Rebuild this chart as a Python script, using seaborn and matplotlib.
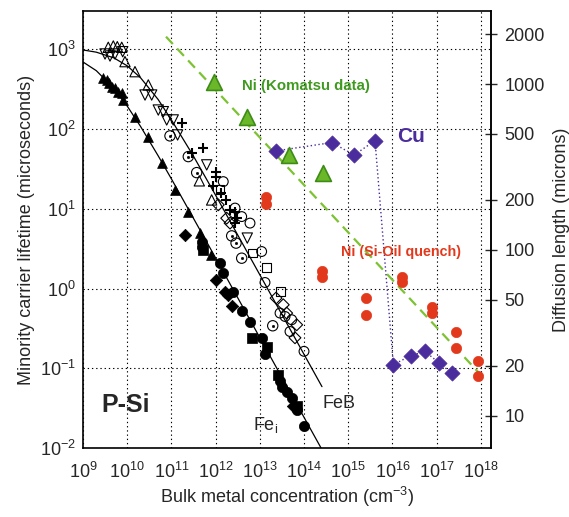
import numpy as np
import pandas as pd
import matplotlib
matplotlib.use("Agg")
import matplotlib.pyplot as plt
from matplotlib.ticker import NullLocator, FixedLocator
import seaborn as sns

# ---------------- data ----------------
# FeB (open symbols)
feb_tri_up_N = [3.73e9, 4.85e9, 5.97e9, 7.52e9, 8.91e9, 1.50e10, 3.0e10, 4.28e11, 8.13e11]
feb_tri_up_tau = [1059, 1100, 1078, 1059, 700, 524, 357, 22.4, 12.9]
feb_tri_dn_N = [3.15e9, 4.08e9, 5.30e9, 7.91e9, 2.53e10, 3.58e10, 5.05e10, 6.56e10, 7.83e10,
                1.10e11, 1.38e11, 6.29e11, 5.21e12]
feb_tri_dn_tau = [873, 824, 873, 933, 267, 267, 173, 165, 130, 130, 84.3, 35.5, 4.29]
feb_dot_N = [9.29e10, 2.41e11, 3.73e11, 2.31e12, 2.90e12, 3.89e12, 1.96e13]
feb_dot_tau = [82.0, 45.1, 28.4, 4.57, 3.71, 2.40, 0.341]
feb_plus_N = [1.71e11, 5.08e11, 2.88e11, 1.02e12, 1.02e12, 8.55e11, 1.32e12, 1.72e12,
              2.12e12, 2.75e12, 3.0e12, 2.75e12]
feb_plus_tau = [120, 58.5, 49.8, 29.3, 24.9, 19.4, 15.7, 12.9, 9.68, 9.22, 7.62, 6.61]
feb_circ_N = [1.49e12, 2.75e12, 3.89e12, 6.0e12, 1.10e13, 1.31e13, 2.87e13, 3.72e13,
              5.27e13, 4.82e13, 1.0e14]
feb_circ_tau = [21.9, 10.2, 7.98, 6.61, 2.91, 1.19, 0.492, 0.446, 0.406, 0.289, 0.163]
feb_sq_N = [1.26e12, 6.90e12, 1.43e13, 2.97e13]
feb_sq_tau = [17.6, 2.78, 1.85, 0.916]
feb_dia_N = [1.15e12, 1.78e12, 2.12e12, 2.33e13, 3.40e13, 4.06e13, 6.84e13, 6.25e13]
feb_dia_tau = [11.2, 7.62, 6.61, 0.759, 0.625, 0.492, 0.351, 0.241]

# Fe_i (filled symbols)
fei_tri_N = [2.88e9, 3.44e9, 3.94e9, 4.46e9, 5.30e9, 6.29e9, 7.52e9, 8.17e9, 1.50e10,
             3.0e10, 6.04e10, 1.21e11, 2.41e11, 4.37e11, 7.87e11]
fei_tri_tau = [434, 412, 375, 340, 324, 294, 281, 232, 142, 78.5, 37.2, 17.3, 9.02, 4.94, 2.64]
fei_circ_N = [4.85e11, 4.85e11, 1.26e12, 1.49e12, 2.51e12, 3.89e12, 6.0e12, 1.10e13,
              1.31e13, 2.87e13, 3.13e13, 4.06e13, 5.27e13, 6.84e13, 1.0e14]
fei_circ_tau = [3.88, 3.36, 2.08, 1.56, 0.916, 0.515, 0.377, 0.239, 0.152, 0.0697,
                0.0586, 0.050, 0.0424, 0.0302, 0.0191]
fei_sq_N = [5.27e11, 6.56e12, 1.43e13, 2.62e13, 6.84e13]
fei_sq_tau = [3.05, 0.241, 0.183, 0.0828, 0.0332]
fei_dia_N = [2.03e11, 9.95e11, 1.63e12, 1.94e12, 2.31e12, 5.64e13]
fei_dia_tau = [4.71, 1.28, 0.895, 0.834, 0.607, 0.0339]

# curves
feb_curve_N = [1e9, 2e9, 5e9, 1e10, 2e10, 5e10, 1e11, 3e11, 1e12, 2.55e14]
feb_curve_tau = [980, 920, 780, 620, 440, 235, 130, 48, 14.8, 0.0588]
fei_curve_N = [1e9, 2e9, 5e9, 1e10, 2e10, 5e10, 1e11, 1e12, 3e14]
fei_curve_tau = [693, 539, 324, 194, 108, 46.3, 23.7, 2.42, 0.0081]

# Ni (Komatsu data)
nik_N = [9.35e11, 5.06e12, 4.65e13, 2.65e14]
nik_tau = [393, 143, 47.3, 27.9]
nik_fit_N = [7.55e10, 1.245e18]
nik_fit_tau = [1439, 0.0726]

# Cu
cu_N = [2.33e13, 4.24e14, 1.37e15, 4.04e15, 1.05e16, 2.59e16, 5.47e16, 1.15e17, 2.2e17]
cu_tau = [53.2, 67.6, 47.3, 71.6, 0.111, 0.1436, 0.1626, 0.116, 0.087]

# Ni (Si-Oil quench)
niq_N = [1.38e13, 1.38e13, 2.51e14, 2.51e14, 2.49e15, 2.49e15, 1.62e16, 1.62e16,
         7.71e16, 7.71e16, 2.75e17, 2.75e17, 8.51e17, 8.51e17]
niq_tau = [14.1, 11.5, 1.68, 1.41, 0.758, 0.468, 1.41, 1.22, 0.594, 0.492, 0.281, 0.179,
           0.1216, 0.0789]

# ticks
x_tick_exp = list(range(9, 19))
y_tick_exp = [-2, -1, 0, 1, 2, 3]
right_ticks = [10, 20, 50, 100, 200, 500, 1000, 2000]

# ---------------- style ----------------
sns.set_style("white")
FONT = ["Liberation Sans", "DejaVu Sans"]
plt.rcParams["font.family"] = FONT
plt.rcParams["mathtext.fontset"] = "custom"
plt.rcParams["mathtext.rm"] = "Liberation Sans"
plt.rcParams["mathtext.it"] = "Liberation Sans:italic"
plt.rcParams["mathtext.bf"] = "Liberation Sans:bold"
plt.rcParams["mathtext.default"] = "regular"

GREEN_LINE = "#7cc231"
GREEN_FACE = "#6ab82a"
GREEN_EDGE = "#3d8c16"
GREEN_TEXT = "#3e9a1e"
PURPLE = "#4a2c9c"
RED = "#e2391d"

fig = plt.figure(figsize=(5.69, 5.17), dpi=100)
ax = fig.add_axes([83 / 569, 1 - 448 / 517, (491 - 83) / 569, (448 - 11) / 517])
ax.set_xscale("log")
ax.set_yscale("log")
ax.set_xlim(1e9, 1.70e18)
ax.set_ylim(1e-2, 3020)

# grid
ax.set_axisbelow(True)
ax.grid(True, which="major", color="black", linewidth=0.8, linestyle=(0, (1.2, 2.6)))

# fit curves
sns.lineplot(x=feb_curve_N, y=feb_curve_tau, color="black", lw=0.9, sort=False,
             estimator=None, ax=ax)
sns.lineplot(x=fei_curve_N, y=fei_curve_tau, color="black", lw=0.9, sort=False,
             estimator=None, ax=ax)
sns.lineplot(x=nik_fit_N, y=nik_fit_tau, color=GREEN_LINE, lw=1.6, sort=False,
             estimator=None, ax=ax, dashes=False)
ax.lines[-1].set_dashes((4.5, 2.8))
sns.lineplot(x=cu_N, y=cu_tau, color=PURPLE, lw=1.0, sort=False, estimator=None, ax=ax)
ax.lines[-1].set_linestyle((0, (1, 1.8)))

OPEN = dict(facecolors="none", edgecolor="black", linewidth=0.8)
sns.scatterplot(x=feb_tri_up_N, y=feb_tri_up_tau, marker="^", s=55, ax=ax, **OPEN)
sns.scatterplot(x=feb_tri_dn_N, y=feb_tri_dn_tau, marker="v", s=55, ax=ax, **OPEN)
sns.scatterplot(x=feb_dot_N, y=feb_dot_tau, marker="o", s=55, ax=ax, **OPEN)
sns.scatterplot(x=feb_dot_N, y=feb_dot_tau, marker="o", s=4, color="black",
                edgecolor="black", ax=ax)
sns.scatterplot(x=feb_plus_N, y=feb_plus_tau, marker="+", s=55, color="black",
                linewidth=1.5, ax=ax)
sns.scatterplot(x=feb_circ_N, y=feb_circ_tau, marker="o", s=50, ax=ax, **OPEN)
sns.scatterplot(x=feb_sq_N, y=feb_sq_tau, marker="s", s=40, ax=ax, **OPEN)
sns.scatterplot(x=feb_dia_N, y=feb_dia_tau, marker="D", s=36, ax=ax, **OPEN)

FILLED = dict(color="black", edgecolor="black", linewidth=0.5)
sns.scatterplot(x=fei_tri_N, y=fei_tri_tau, marker="^", s=50, ax=ax, **FILLED)
sns.scatterplot(x=fei_circ_N, y=fei_circ_tau, marker="o", s=55, ax=ax, **FILLED)
sns.scatterplot(x=fei_sq_N, y=fei_sq_tau, marker="s", s=45, ax=ax, **FILLED)
sns.scatterplot(x=fei_dia_N, y=fei_dia_tau, marker="D", s=40, ax=ax, **FILLED)

sns.scatterplot(x=nik_N, y=nik_tau, marker="^", s=130, color=GREEN_FACE,
                edgecolor=GREEN_EDGE, linewidth=1.2, ax=ax, zorder=4)
sns.scatterplot(x=cu_N, y=cu_tau, marker="D", s=60, color=PURPLE, edgecolor=PURPLE,
                linewidth=0.5, ax=ax, zorder=4)
sns.scatterplot(x=niq_N, y=niq_tau, marker="o", s=55, color=RED, edgecolor=RED,
                linewidth=0.5, ax=ax, zorder=4)

# annotations
ax.text(9.4e9, 0.035, "P-Si", fontsize=18, fontweight="bold", ha="center", va="center")
ax.text(6.2e14, 0.0359, "FeB", fontsize=13, ha="center", va="center")
ax.text(1.38e13, 0.0196, r"Fe$_{\mathregular{i}}$", fontsize=13, ha="center", va="center")
ax.text(3.95e12, 347, "Ni (Komatsu data)", fontsize=10.8, fontweight="bold",
        color=GREEN_TEXT, ha="left", va="center")
ax.text(2.64e16, 79.6, "Cu", fontsize=15, fontweight="bold", color=PURPLE,
        ha="center", va="center")
ax.text(1.57e16, 2.88, "Ni (Si-Oil quench)", fontsize=10.3, fontweight="bold", color=RED,
        ha="center", va="center")

# axes, ticks
ax.xaxis.set_major_locator(FixedLocator([10.0 ** k for k in x_tick_exp]))
ax.set_xticklabels([f"$10^{{{k}}}$" for k in x_tick_exp])
ax.yaxis.set_major_locator(FixedLocator([10.0 ** k for k in y_tick_exp]))
ax.set_yticklabels([f"$10^{{{k}}}$" for k in y_tick_exp])
ax.xaxis.set_minor_locator(NullLocator())
ax.yaxis.set_minor_locator(NullLocator())
ax.tick_params(axis="both", which="major", direction="in", length=7, width=1.0,
               labelsize=13, top=False, right=False, pad=5)
ax.tick_params(axis="x", pad=10)
for sp in ax.spines.values():
    sp.set_linewidth(1.2)
    sp.set_color("black")

ax.set_xlabel("Bulk metal concentration (cm$^{-3}$)", fontsize=13, labelpad=2)
ax.set_ylabel("Minority carrier lifetime (microseconds)", fontsize=13, labelpad=4)

R_A, R_B = 2.08, -3.676


def tau_to_L(t):
    t = np.clip(np.asarray(t, dtype=float), 1e-30, None)
    return 10 ** ((np.log10(t) - R_B) / R_A)


def L_to_tau(L):
    L = np.clip(np.asarray(L, dtype=float), 1e-30, None)
    return 10 ** (R_A * np.log10(L) + R_B)


sec = ax.secondary_yaxis("right", functions=(tau_to_L, L_to_tau))
sec.yaxis.set_major_locator(FixedLocator(right_ticks))
sec.set_yticklabels([str(v) for v in right_ticks])
sec.yaxis.set_minor_locator(NullLocator())
sec.tick_params(axis="y", which="major", direction="inout", length=9, width=1.0,
                labelsize=13, pad=5)
sec.spines["right"].set_linewidth(1.2)
sec.set_ylabel("Diffusion length (microns)", fontsize=13, labelpad=6)

fig.savefig("out.png", dpi=100)
